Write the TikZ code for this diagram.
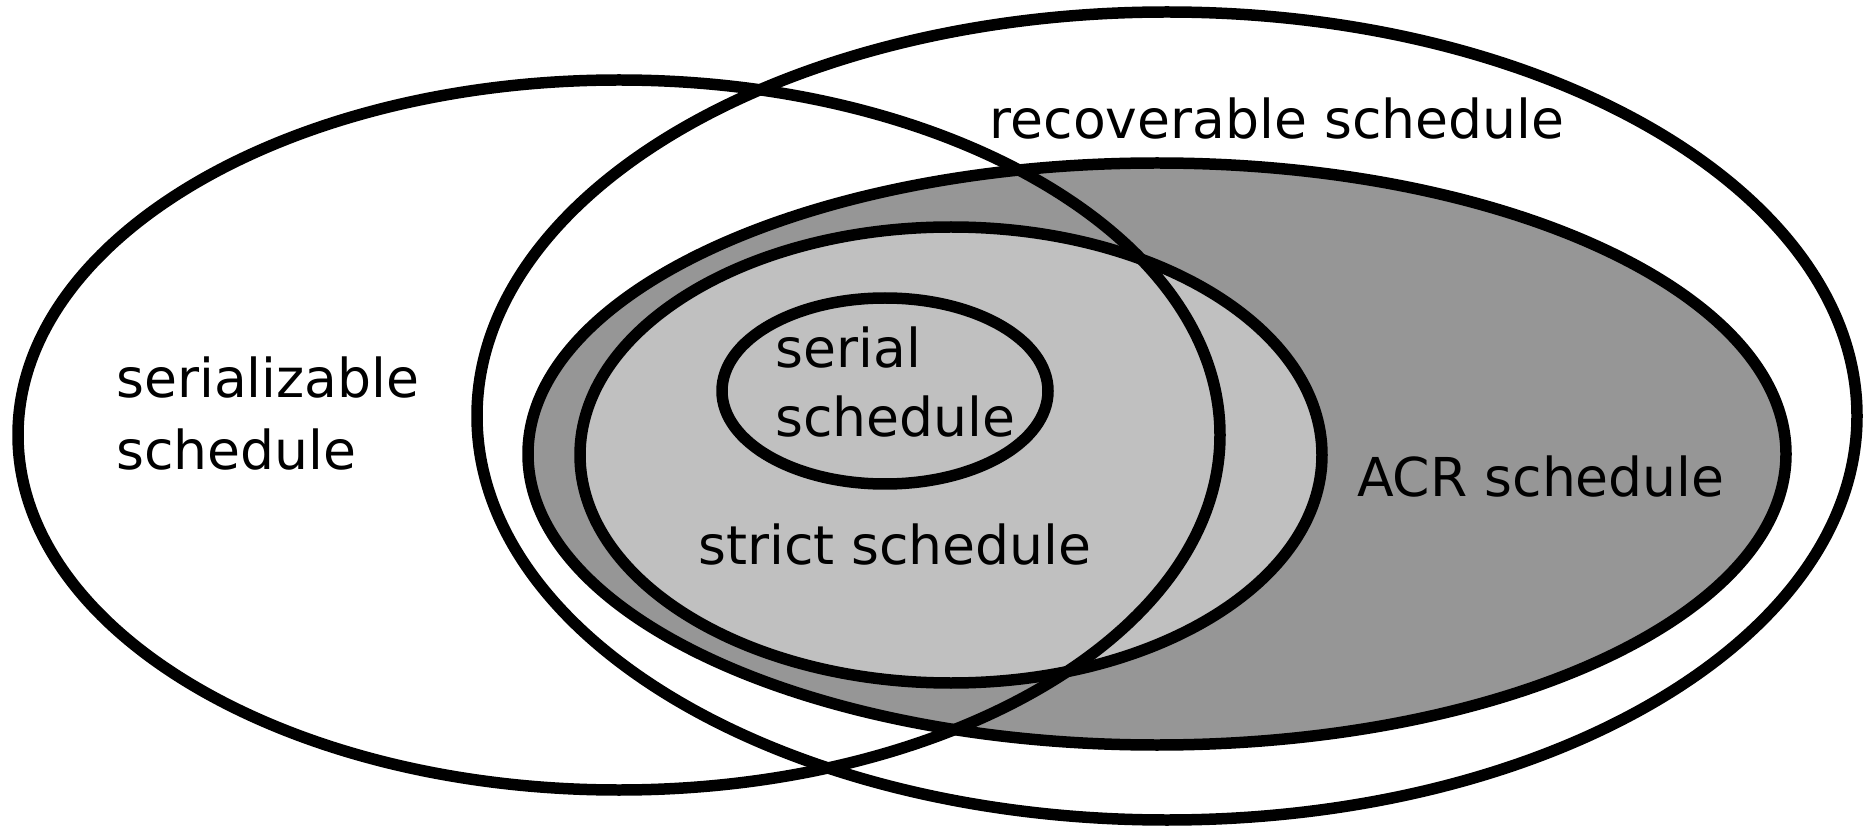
\documentclass[tikz,border=0pt]{standalone}
\usepackage{fontspec}
\setmainfont{DejaVu Sans}
\begin{document}
\begin{tikzpicture}[x=0.02cm, y=-0.02cm,
  setline/.style={draw=black, line width=0.23cm},
  acrfill/.style={fill=acrgray},
  strictfill/.style={fill=strictgray},
  lbl/.style={inner sep=0pt, font=\fontsize{30.5pt}{36pt}\selectfont}]
  \definecolor{acrgray}{HTML}{969696}
  \definecolor{strictgray}{HTML}{C0C0C0}
  \useasboundingbox[fill=white] (0,0) rectangle (1863,827);

  % shaded regions
  \fill[acrfill]    (1157,454) ellipse [x radius=629, y radius=291];
  \fill[strictfill] (951,455)  ellipse [x radius=371, y radius=228];

  % outlines
  \draw[setline] (619,435)  ellipse [x radius=601, y radius=355]; % serializable
  \draw[setline] (1167,416) ellipse [x radius=690, y radius=404]; % recoverable
  \draw[setline] (1157,454) ellipse [x radius=629, y radius=291]; % ACR
  \draw[setline] (951,455)  ellipse [x radius=371, y radius=228]; % strict
  \draw[setline] (885,391)  ellipse [x radius=163, y radius=93];  % serial

  % labels
  \node[lbl, anchor=base] (rec) at (1277,139) {recoverable schedule};
  \node[lbl, anchor=base west] (sz1) at (116,398) {serializable};
  \node[lbl, anchor=base west] (sz2) at (116,469) {schedule};
  \node[lbl, anchor=base west] (se1) at (775,368) {serial};
  \node[lbl, anchor=base west] (se2) at (775,437) {schedule};
  \node[lbl, anchor=base] (str) at (895,564) {strict schedule};
  \node[lbl, anchor=base] (acr) at (1541,497) {ACR schedule};
\end{tikzpicture}
\end{document}
